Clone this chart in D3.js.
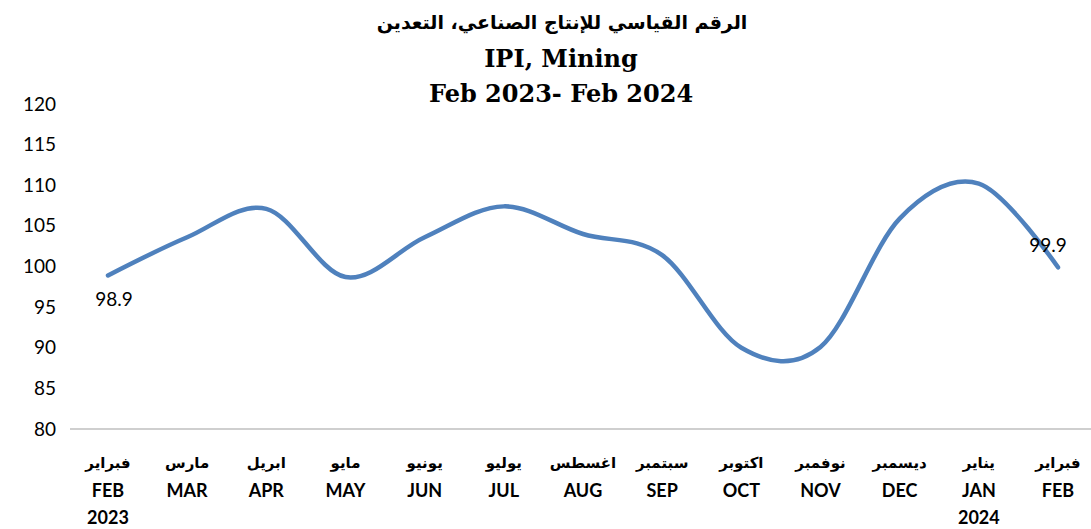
<!DOCTYPE html>
<html>
<head>
<meta charset="utf-8">
<script src="https://cdn.jsdelivr.net/npm/d3@7"></script>
<style>
  body { margin: 0; background: #fff; }
  svg { display: block; }
</style>
</head>
<body>
<div id="chart"></div>
<script>
// data
var monthsEn = ["FEB", "MAR", "APR", "MAY", "JUN", "JUL", "AUG", "SEP", "OCT", "NOV", "DEC", "JAN", "FEB"];
var monthsAr = ["فبراير", "مارس", "ابريل", "مايو", "يونيو", "يوليو", "اغسطس", "سبتمبر", "اكتوبر", "نوفمبر", "ديسمبر", "يناير", "فبراير"];
var years = ["2023", "", "", "", "", "", "", "", "", "", "", "2024", ""];
var values = [98.9, 103.6, 107.1, 98.7, 103.6, 107.4, 104.0, 101.4, 90.0, 90.1, 105.9, 110.2, 99.9];
var yTicks = [80, 85, 90, 95, 100, 105, 110, 115, 120];
var titleLines = ["الرقم القياسي للإنتاج الصناعي، التعدين", "IPI, Mining", "Feb 2023- Feb 2024"];

var width = 1091, height = 529;
var keys = d3.range(values.length);

var svg = d3.select("#chart").append("svg")
    .attr("width", width)
    .attr("height", height);

var xScale = d3.scalePoint().domain(keys).range([108, 1058]),
    yScale = d3.scaleLinear().domain([80, 120]).range([429, 104]);

// title
svg.append("text")
    .attr("x", 562).attr("y", 29)
    .attr("text-anchor", "middle")
    .style("font-family", "'DejaVu Sans', sans-serif")
    .style("font-weight", "bold")
    .style("font-size", "19px")
    .attr("direction", "rtl")
    .text(titleLines[0]);
svg.append("text")
    .attr("x", 561).attr("y", 67)
    .attr("text-anchor", "middle")
    .style("font-family", "'DejaVu Serif', serif")
    .style("font-weight", "bold")
    .style("font-size", "24px")
    .text(titleLines[1]);
svg.append("text")
    .attr("x", 561).attr("y", 102)
    .attr("text-anchor", "middle")
    .style("font-family", "'DejaVu Serif', serif")
    .style("font-weight", "bold")
    .style("font-size", "24px")
    .text(titleLines[2]);

// y axis, labels only
var yAxis = d3.axisLeft(yScale).tickValues(yTicks).tickSize(0).tickPadding(0);
svg.append("g")
    .attr("class", "axis axis--y")
    .attr("transform", "translate(56,0)")
    .call(yAxis)
    .call(function(g) { g.select(".domain").remove(); })
    .selectAll("text")
    .style("font-family", "Lato, 'Open Sans', sans-serif")
    .style("font-size", "19px")
    .attr("fill", "#000");

// baseline
svg.append("line")
    .attr("x1", 70).attr("x2", 1091)
    .attr("y1", yScale(80)).attr("y2", yScale(80))
    .attr("stroke", "#bfbfbf")
    .attr("stroke-width", 1.5);

// x labels
var xl = svg.append("g").attr("class", "axis axis--x");
xl.selectAll(".ar").data(keys).enter().append("text")
    .attr("x", function(d) { return xScale(d); })
    .attr("y", 468)
    .attr("text-anchor", "middle")
    .attr("direction", "rtl")
    .style("font-family", "'DejaVu Sans', sans-serif")
    .style("font-weight", "bold")
    .style("font-size", "15px")
    .text(function(d) { return monthsAr[d]; });
xl.selectAll(".en").data(keys).enter().append("text")
    .attr("x", function(d) { return xScale(d); })
    .attr("y", 497)
    .attr("text-anchor", "middle")
    .style("font-family", "Lato, 'Open Sans', sans-serif")
    .style("font-weight", "bold")
    .style("font-size", "18px")
    .text(function(d) { return monthsEn[d]; });
xl.selectAll(".yr").data(keys).enter().append("text")
    .attr("x", function(d) { return xScale(d); })
    .attr("y", 524)
    .attr("text-anchor", "middle")
    .style("font-family", "Lato, 'Open Sans', sans-serif")
    .style("font-weight", "bold")
    .style("font-size", "18px")
    .text(function(d) { return years[d]; });

// line
var line = d3.line()
    .x(function(d) { return xScale(d); })
    .y(function(d) { return yScale(values[d]); })
    .curve(d3.curveCardinal.tension(0));

svg.append("path")
    .datum(keys)
    .attr("fill", "none")
    .attr("stroke", "#4f81bd")
    .attr("stroke-width", 4.5)
    .attr("stroke-linecap", "round")
    .attr("stroke-linejoin", "round")
    .attr("d", line);

// data labels, first and last
var last = values.length - 1;
svg.append("text")
    .attr("x", xScale(0) + 6).attr("y", yScale(values[0]) + 31)
    .attr("text-anchor", "middle")
    .style("font-family", "Lato, 'Open Sans', sans-serif")
    .style("font-size", "19px")
    .text(values[0].toFixed(1));
svg.append("text")
    .attr("x", xScale(last) - 10).attr("y", yScale(values[last]) - 15)
    .attr("text-anchor", "middle")
    .style("font-family", "Lato, 'Open Sans', sans-serif")
    .style("font-size", "19px")
    .text(values[last].toFixed(1));
</script>
</body>
</html>
